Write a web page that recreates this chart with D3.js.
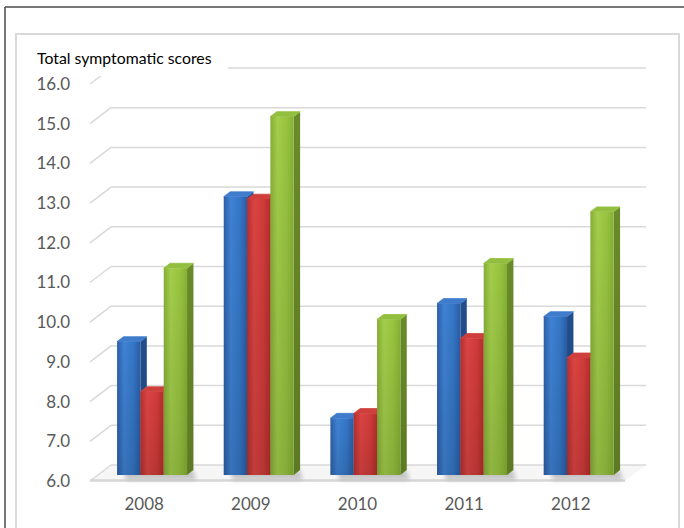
<!DOCTYPE html>
<html>
<head>
<meta charset="utf-8">
<script src="https://cdn.jsdelivr.net/npm/d3@7"></script>
<style>
  html, body { margin: 0; padding: 0; background: #fff; }
  svg { display: block; }
</style>
</head>
<body>
<svg id="chart" width="684" height="528"></svg>
<script>
// Years on the category axis
const years = ["2008", "2009", "2010", "2011", "2012"];
// Series values (total symptomatic scores)
const seriesNames = ["blue", "red", "green"];
const blueValues  = [9.36, 13.01, 7.43, 10.32, 9.99];
const redValues   = [8.10, 12.95, 7.55, 9.44, 8.95];
const greenValues = [11.21, 15.03, 9.92, 11.33, 12.63];
// Value-axis ticks
const yTicks = [6, 7, 8, 9, 10, 11, 12, 13, 14, 15, 16];
const yTitle = "Total symptomatic scores";

const seriesValues = [blueValues, redValues, greenValues];

const svg = d3.select("#chart");
const defs = svg.append("defs");

// Oblique projection: depth d in [0,1] shifts right and up
const DX = 21, DY = 16;
const x = d3.scaleBand().domain(years).range([90, 625]).paddingInner(0.344).paddingOuter(0.18);
const xs = d3.scaleBand().domain(seriesNames).range([0, x.bandwidth()]);
const y = d3.scaleLinear().domain([6, 16]).range([481, 84]);
const proj = (px, v, d) => [px + DX * d, y(v) - DY * d];
const pts = arr => arr.map(p => p.join(",")).join(" ");

// Face colours per series
const palette = {
  blue:  { front: ["#2c5fa8", "#3f82d3", "#3476c6", "#2a5ca3"], side: ["#234d8c", "#1d427a"], top: "#3f7ccb" },
  red:   { front: ["#b52f2e", "#da4442", "#cf3b39", "#b12d2c"], side: ["#8f2523", "#7e1f1e"], top: "#cf403d" },
  green: { front: ["#86ad36", "#a3cd4b", "#97c33f", "#86b034"], side: ["#6a8b29", "#5c7a22"], top: "#93bf40" }
};
seriesNames.forEach(s => {
  const c = palette[s];
  const g = defs.append("linearGradient").attr("id", "front-" + s).attr("x1", 0).attr("x2", 1).attr("y1", 0).attr("y2", 0);
  [[0, c.front[0]], [0.3, c.front[1]], [0.7, c.front[2]], [1, c.front[3]]].forEach(([o, col]) =>
    g.append("stop").attr("offset", o).attr("stop-color", col));
  const gs = defs.append("linearGradient").attr("id", "side-" + s).attr("x1", 0).attr("x2", 0).attr("y1", 0).attr("y2", 1);
  gs.append("stop").attr("offset", 0).attr("stop-color", c.side[0]);
  gs.append("stop").attr("offset", 1).attr("stop-color", c.side[1]);
});
// Subtle darkening toward the bottom of each front face
const shade = defs.append("linearGradient").attr("id", "vshade").attr("x1", 0).attr("x2", 0).attr("y1", 0).attr("y2", 1);
shade.append("stop").attr("offset", 0).attr("stop-color", "#000").attr("stop-opacity", 0);
shade.append("stop").attr("offset", 1).attr("stop-color", "#000").attr("stop-opacity", 0.12);

const blur = defs.append("filter").attr("id", "soft").attr("x", "-50%").attr("y", "-50%").attr("width", "200%").attr("height", "200%");
blur.append("feGaussianBlur").attr("stdDeviation", 2.2);

// Frames
svg.append("line").attr("x1", 5).attr("y1", 7).attr("x2", 684).attr("y2", 7).attr("stroke", "#4a4a4a").attr("stroke-width", 1.5);
svg.append("line").attr("x1", 5).attr("y1", 7).attr("x2", 5).attr("y2", 528).attr("stroke", "#4a4a4a").attr("stroke-width", 1.5);
svg.append("rect").attr("x", 16).attr("y", 34).attr("width", 663).attr("height", 520)
  .attr("fill", "none").attr("stroke", "#d9d9d9").attr("stroke-width", 2);

const [xL, xR] = x.range();

// Floor
svg.append("polygon")
  .attr("points", pts([proj(xL, 6, 0), proj(xR, 6, 0), proj(xR, 6, 1), proj(xL, 6, 1)]))
  .attr("fill", "#f6f6f6");

// Back-wall gridlines and side-wall diagonals
const grid = svg.append("g");
yTicks.forEach(t => {
  grid.append("line")
    .attr("x1", proj(xL, t, 1)[0]).attr("y1", proj(xL, t, 1)[1])
    .attr("x2", proj(xR, t, 1)[0]).attr("y2", proj(xR, t, 1)[1])
    .attr("stroke", "#d9d9d9").attr("stroke-width", 1.5);
  grid.append("line")
    .attr("x1", proj(xL, t, 0)[0]).attr("y1", proj(xL, t, 0)[1])
    .attr("x2", proj(xL, t, 1)[0]).attr("y2", proj(xL, t, 1)[1])
    .attr("stroke", "#d9d9d9").attr("stroke-width", 1.5);
});

// Floor front edge
svg.append("line")
  .attr("x1", xL).attr("y1", y(6) - 0.5).attr("x2", xR).attr("y2", y(6) - 0.5)
  .attr("stroke", "#d6d6d6").attr("stroke-width", 2.5);

// Bars sit between these depths
const d0 = 0.375, d1 = 0.68;

// Soft shadows on the floor
const shadows = svg.append("g").attr("filter", "url(#soft)");
years.forEach(yr => {
  const gx0 = x(yr), gx1 = x(yr) + x.bandwidth();
  shadows.append("polygon")
    .attr("points", pts([proj(gx0, 6, d1), proj(gx1, 6, d1), proj(gx1 + 16, 6, 0.05), proj(gx0 + 16, 6, 0.05)]))
    .attr("fill", "#b5b5b5").attr("opacity", 0.75);
});

// Bars
const bars = svg.append("g");
years.forEach((yr, i) => {
  seriesNames.forEach((s, k) => {
    const v = seriesValues[k][i];
    const bx0 = x(yr) + xs(s), bx1 = bx0 + xs.bandwidth();
    const g = bars.append("g");
    g.append("polygon")
      .attr("points", pts([proj(bx1, 6, d0), proj(bx1, 6, d1), proj(bx1, v, d1), proj(bx1, v, d0)]))
      .attr("fill", `url(#side-${s})`);
    g.append("polygon")
      .attr("points", pts([proj(bx0, v, d0), proj(bx1, v, d0), proj(bx1, v, d1), proj(bx0, v, d1)]))
      .attr("fill", palette[s].top).attr("stroke", palette[s].top).attr("stroke-width", 0.8).attr("stroke-linejoin", "round");
    const front = [proj(bx0, 6, d0), proj(bx1, 6, d0), proj(bx1, v, d0), proj(bx0, v, d0)];
    g.append("polygon").attr("points", pts(front)).attr("fill", `url(#front-${s})`);
    g.append("polygon").attr("points", pts(front)).attr("fill", "url(#vshade)");
  });
});

// Value-axis labels
const labelFont = "Lato, 'Open Sans', sans-serif";
svg.append("g").selectAll("text").data(yTicks).join("text")
  .attr("x", 70).attr("y", d => y(d)).attr("dy", "0.35em")
  .attr("text-anchor", "end")
  .attr("font-family", labelFont).attr("font-size", 17).attr("fill", "#595959")
  .text(d => d3.format(".1f")(d));

// Category labels
svg.append("g").selectAll("text").data(years).join("text")
  .attr("x", d => x(d) + x.bandwidth() / 2).attr("y", 510)
  .attr("text-anchor", "middle")
  .attr("font-family", labelFont).attr("font-size", 17).attr("fill", "#595959")
  .text(d => d);

// Axis title on a white plate
svg.append("rect").attr("x", 28).attr("y", 44).attr("width", 200).attr("height", 32).attr("fill", "#fff");
svg.append("text").attr("x", 37).attr("y", 63.5)
  .attr("font-family", labelFont).attr("font-size", 15.8).attr("fill", "#000")
  .text(yTitle);
</script>
</body>
</html>
